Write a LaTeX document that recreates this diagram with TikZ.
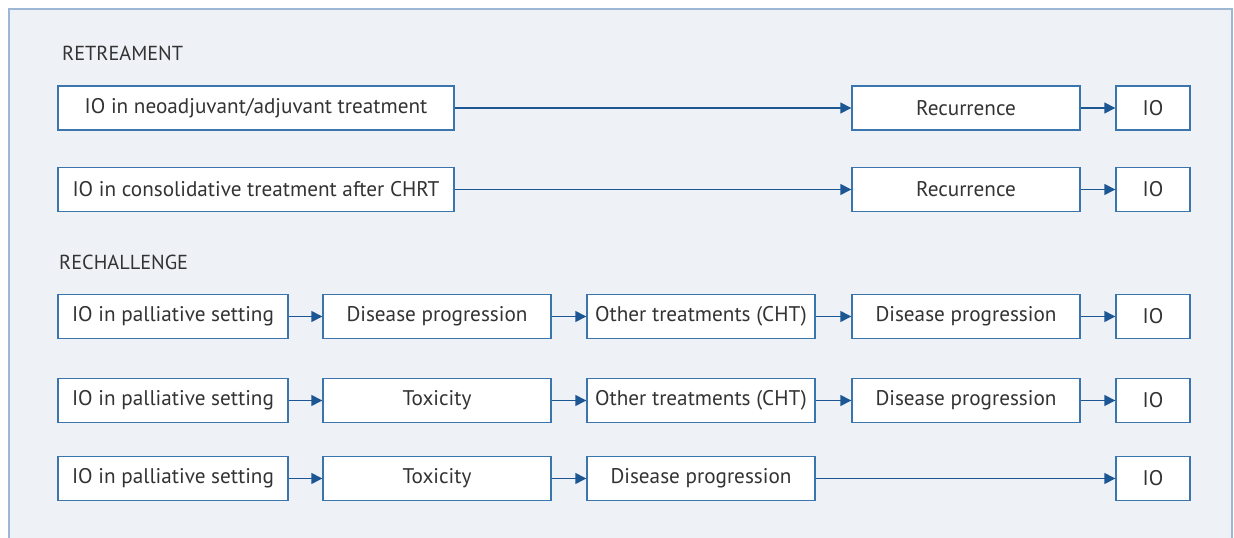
\documentclass[tikz,border=0pt]{standalone}
\usepackage{fontspec}
\setmainfont{PT Sans}
\usetikzlibrary{arrows.meta}
\definecolor{panelfill}{HTML}{EEF1F6}
\definecolor{panelline}{HTML}{9DB6D3}
\definecolor{boxline}{HTML}{3A75AE}
\definecolor{arrowc}{HTML}{1C5794}
\definecolor{txt}{HTML}{333333}
\tikzset{
  box/.style={draw=boxline, line width=1.4pt, fill=white, minimum height=44pt,
    inner sep=0pt, font=\fontsize{21.2}{25}\selectfont, text=txt},
  wide/.style={box, minimum width=396pt},
  first/.style={box, minimum width=230pt},
  mid/.style={box, minimum width=228pt},
  io/.style={box, minimum width=74pt},
  head/.style={anchor=west, inner sep=0pt, font=\fontsize{20.3}{24}\selectfont, text=txt},
  conn/.style={draw=arrowc, line width=1.4pt, -{Triangle[length=11pt,width=11pt]}}
}
\begin{document}
\begin{tikzpicture}[x=1pt,y=-1pt]
\useasboundingbox (0,0) rectangle (1234,538);
\begin{scope}
\clip (0,0) rectangle (1234,538);
\draw[panelline, fill=panelfill, line width=1.2pt] (9,9) rectangle (1232,560);
\end{scope}
\node[head] (h1) at (62,53) {RETREAMENT};
\node[head] (h2) at (59,262) {RECHALLENGE};
% row 1
\node[wide] (a1) at (256,108) {IO in neoadjuvant/adjuvant treatment};
\node[mid] (a4) at (966,108) {Recurrence};
\node[io] (a5) at (1153,108) {IO};
\draw[conn] (a1) -- (a4);
\draw[conn] (a4) -- (a5);
% row 2
\node[wide] (b1) at (256,189.5) {IO in consolidative treatment after CHRT};
\node[mid] (b4) at (966,189.5) {Recurrence};
\node[io] (b5) at (1153,189.5) {IO};
\draw[conn] (b1) -- (b4);
\draw[conn] (b4) -- (b5);
% row 3
\node[first] (c1) at (173,316.5) {IO in palliative setting};
\node[mid] (c2) at (437,316.5) {Disease progression};
\node[mid] (c3) at (701,316.5) {Other treatments (CHT)};
\node[mid] (c4) at (966,316.5) {Disease progression};
\node[io] (c5) at (1153,316.5) {IO};
\draw[conn] (c1) -- (c2);
\draw[conn] (c2) -- (c3);
\draw[conn] (c3) -- (c4);
\draw[conn] (c4) -- (c5);
% row 4
\node[first] (d1) at (173,400.5) {IO in palliative setting};
\node[mid] (d2) at (437,400.5) {Toxicity};
\node[mid] (d3) at (701,400.5) {Other treatments (CHT)};
\node[mid] (d4) at (966,400.5) {Disease progression};
\node[io] (d5) at (1153,400.5) {IO};
\draw[conn] (d1) -- (d2);
\draw[conn] (d2) -- (d3);
\draw[conn] (d3) -- (d4);
\draw[conn] (d4) -- (d5);
% row 5
\node[first] (e1) at (173,478.5) {IO in palliative setting};
\node[mid] (e2) at (437,478.5) {Toxicity};
\node[mid] (e3) at (701,478.5) {Disease progression};
\node[io] (e5) at (1153,478.5) {IO};
\draw[conn] (e1) -- (e2);
\draw[conn] (e2) -- (e3);
\draw[conn] (e3) -- (e5);
\end{tikzpicture}
\end{document}
